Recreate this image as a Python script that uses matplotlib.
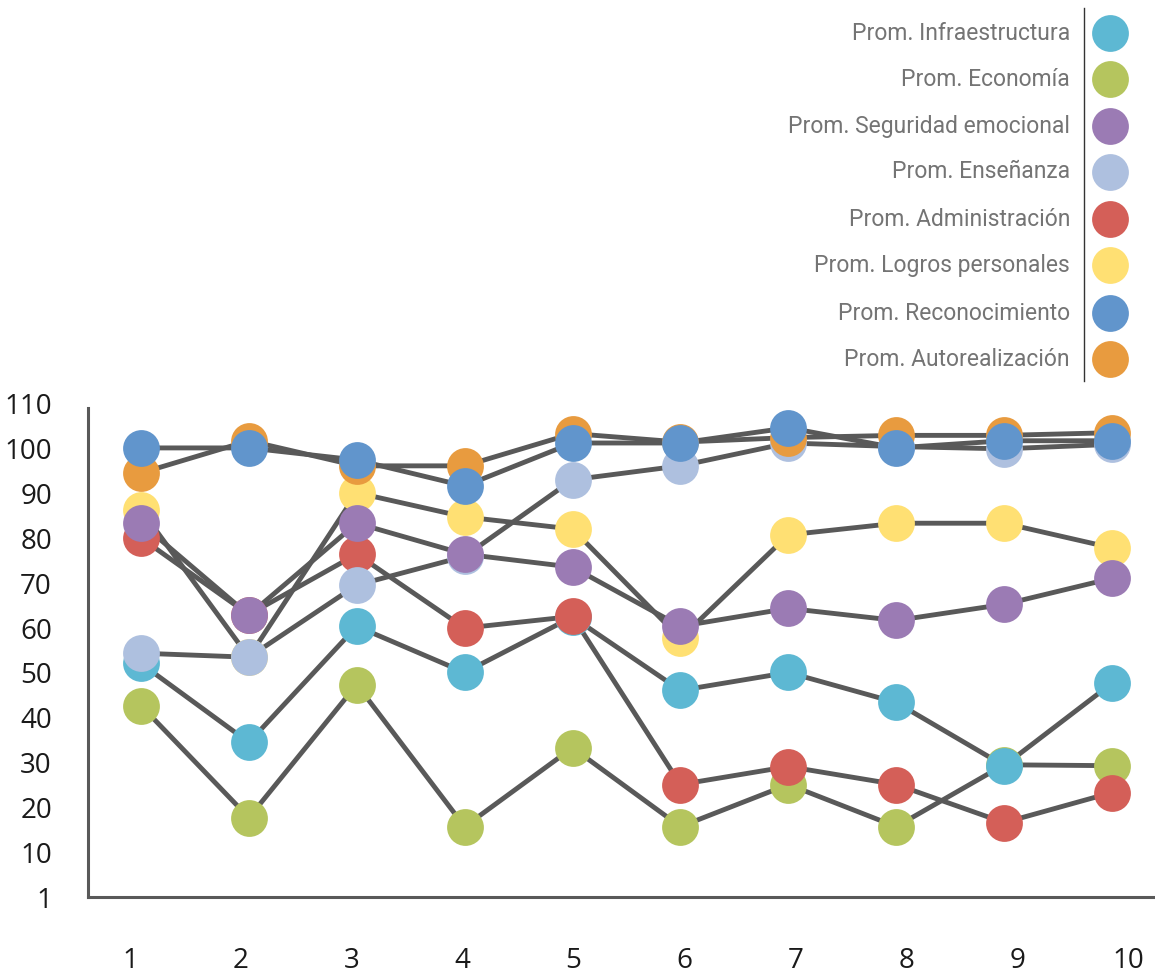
import matplotlib
matplotlib.use("Agg")
import matplotlib.pyplot as plt
from matplotlib.lines import Line2D
from matplotlib import font_manager

x = [1, 2, 3, 4, 5, 6, 7, 8, 9, 10]
series_names = ["Prom. Infraestructura", "Prom. Economía", "Prom. Seguridad emocional",
                "Prom. Enseñanza", "Prom. Administración", "Prom. Logros personales",
                "Prom. Reconocimiento", "Prom. Autorealización"]
infraestructura = [52.1, 34.5, 60.4, 50.1, 62.5, 46.1, 50.1, 43.4, 29.3, 47.7]
economia = [42.7, 17.7, 47.4, 15.7, 33.3, 15.7, 25.1, 15.7, 29.5, 29.3]
seguridad = [83.4, 62.9, 83.4, 76.5, 73.6, 60.4, 64.4, 61.7, 65.3, 71.1]
ensenanza = [54.4, 53.5, 69.6, 76.0, 93.1, 96.2, 101.3, 100.5, 100.0, 101.0]
administracion = [80.1, 63.0, 76.5, 60.0, 62.6, 25.1, 29.1, 25.1, 16.6, 23.3]
logros = [86.4, 53.5, 90.2, 84.8, 82.1, 57.7, 80.8, 83.4, 83.4, 77.9]
reconocimiento = [100.2, 100.2, 97.5, 91.7, 101.3, 101.3, 104.7, 100.2, 101.8, 101.8]
autorealizacion = [94.6, 101.8, 96.2, 96.2, 103.4, 101.5, 102.5, 103.0, 103.0, 103.6]
y_ticks = [0, 10, 20, 30, 40, 50, 60, 70, 80, 90, 100, 110]
y_tick_labels = ["1", "10", "20", "30", "40", "50", "60", "70", "80", "90", "100", "110"]
x_tick_labels = ["1", "2", "3", "4", "5", "6", "7", "8", "9", "10"]

values = [infraestructura, economia, seguridad, ensenanza, administracion,
          logros, reconocimiento, autorealizacion]
colors = ["#5DB8D3", "#B5C55E", "#9B7BB4", "#AEC0DF", "#D45F58",
          "#FFE073", "#6195CC", "#E89B3F"]
# stacking order of markers (higher on top)
marker_z = [3, 2, 8, 6, 4, 5, 10, 9]

avail = {f.name for f in font_manager.fontManager.ttflist}
narrow = "Roboto" if "Roboto" in avail else "DejaVu Sans"
tickfont = "Open Sans" if "Open Sans" in avail else "DejaVu Sans"

W, H = 1155, 976
fig = plt.figure(figsize=(W / 100, H / 100), dpi=100)
ax = fig.add_axes([88 / W, 1 - 897 / H, (W - 88) / W, (897 - 404) / H])

line_col = "#595959"
for vals in values:
    ax.plot(x, vals, color=line_col, lw=3.5, zorder=1, solid_capstyle="round")
for vals, c, z in zip(values, colors, marker_z):
    ax.plot(x, vals, linestyle="none", marker="o", markersize=26.5,
            markerfacecolor=c, markeredgecolor=c, markeredgewidth=0, zorder=z)

ax.set_xlim(1 - (141 - 88) / 107.9, 10 + (1155 - 1112) / 107.9)
ax.set_ylim(0, 110)
for s in ["top", "right"]:
    ax.spines[s].set_visible(False)
for s in ["left", "bottom"]:
    ax.spines[s].set_color(line_col)
    ax.spines[s].set_linewidth(2.2)
ax.spines["left"].set_bounds(0, 109)

ax.set_yticks(y_ticks)
ax.set_yticklabels(y_tick_labels, fontsize=20, color="#1a1a1a", fontfamily=tickfont)
ax.tick_params(axis="y", length=0, pad=26)
ax.set_xticks([])

def fwd(v):
    return 1 + (141 + (v - 1) * 107.9 - 130) / 110.9

def inv(u):
    return 1 + (130 + (u - 1) * 110.9 - 141) / 107.9

sec = ax.secondary_xaxis("bottom", functions=(fwd, inv))
sec.set_xticks(x)
sec.set_xticklabels(x_tick_labels, fontsize=20, color="#1a1a1a", fontfamily=tickfont)
sec.tick_params(axis="x", length=0, pad=36)
sec.spines["bottom"].set_visible(False)

# legend
row_y = [33, 79, 126, 172, 219, 265, 313, 359]
for name, c, yy in zip(series_names, colors, row_y):
    fig.text(1070 / W, 1 - yy / H, name, ha="right", va="center",
             fontsize=16.5, color="#747474", fontfamily=narrow)
    fig.add_artist(Line2D([1110 / W], [1 - yy / H], marker="o", markersize=26.5,
                          markerfacecolor=c, markeredgewidth=0, linestyle="none",
                          transform=fig.transFigure))
fig.add_artist(Line2D([1084 / W, 1084 / W], [1 - 8 / H, 1 - 381 / H],
                      color="#333333", lw=1.0, transform=fig.transFigure))

fig.savefig("out.png", dpi=100)
